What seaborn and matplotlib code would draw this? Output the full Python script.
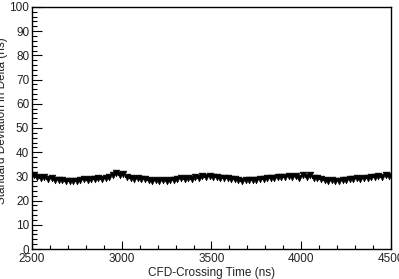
import matplotlib
matplotlib.use("Agg")
import matplotlib.pyplot as plt
from matplotlib.ticker import MultipleLocator
import numpy as np
import pandas as pd
import seaborn as sns

# bin centres (20 ns bins) and the standard deviation
time_ns = np.arange(2510, 4500, 20)
std_dev = [
    30.5, 29.8, 29.2, 29.6, 29.0, 29.3, 28.7, 28.4, 28.6, 28.2,
    28.0, 28.3, 28.1, 28.5, 28.9, 28.6, 29.0, 28.8, 29.2, 28.9,
    29.5, 29.9, 30.6, 31.3, 30.5, 31.0, 29.8, 29.3, 29.0, 29.2,
    28.8, 28.9, 28.5, 28.3, 28.6, 28.0, 28.4, 28.2, 28.7, 28.5,
    28.9, 29.3, 28.8, 29.5, 29.1, 29.8, 29.4, 30.2, 29.9, 30.1,
    29.8, 29.6, 29.5, 29.2, 29.4, 29.0, 28.9, 28.5, 28.3, 28.6,
    28.4, 28.7, 28.5, 28.9, 28.8, 29.2, 29.5, 29.3, 29.8, 29.6,
    29.9, 30.3, 29.6, 30.1, 29.4, 30.5, 29.8, 30.4, 29.5, 29.2,
    29.0, 28.6, 28.2, 28.5, 28.3, 28.0, 28.4, 28.6, 28.8, 29.0,
    29.2, 28.9, 29.5, 29.3, 29.8, 29.6, 30.2, 29.9, 30.6, 30.3,
]
bin_half = 10

df = pd.DataFrame({"t": time_ns, "sd": std_dev})

sns.set_style("white")
plt.rcParams["font.family"] = ["Liberation Sans", "DejaVu Sans"]

fig = plt.figure(figsize=(3.99, 2.79), dpi=100)
ax = fig.add_axes([0.080, 0.1075, 0.900, 0.8675])

# horizontal bin-width bars like a ROOT graph
ax.errorbar(df["t"], df["sd"], xerr=bin_half, fmt="none",
            ecolor="black", elinewidth=1.5, capsize=0, zorder=2)
sns.scatterplot(data=df, x="t", y="sd", marker="v", s=24, color="black",
                edgecolor="black", linewidth=0.4, ax=ax, zorder=3)

ax.set_xlim(2500, 4500)
ax.set_ylim(0, 100)
ax.xaxis.set_major_locator(MultipleLocator(500))
ax.xaxis.set_minor_locator(MultipleLocator(100))
ax.yaxis.set_major_locator(MultipleLocator(10))
ax.yaxis.set_minor_locator(MultipleLocator(2))
ax.tick_params(which="both", direction="in", bottom=True, left=True,
               top=False, right=False, labelsize=8.5, width=0.8,
               color="black", labelcolor="#222222")
ax.tick_params(axis="x", which="major", length=6, pad=3)
ax.tick_params(axis="x", which="minor", length=3)
ax.tick_params(axis="y", which="major", length=7, pad=2)
ax.tick_params(axis="y", which="minor", length=3.5)

for sp in ax.spines.values():
    sp.set_color("black")
    sp.set_linewidth(1.0)

ax.set_xlabel("CFD-Crossing Time (ns)", fontsize=8.5, labelpad=1,
              color="#222222")
ax.set_ylabel("Standard Deviation in Delta (ns)", fontsize=8.5,
              color="#222222")
ax.yaxis.set_label_coords(-0.066, 0.53)

fig.savefig("out.png", dpi=100, facecolor="white")
plt.close(fig)
